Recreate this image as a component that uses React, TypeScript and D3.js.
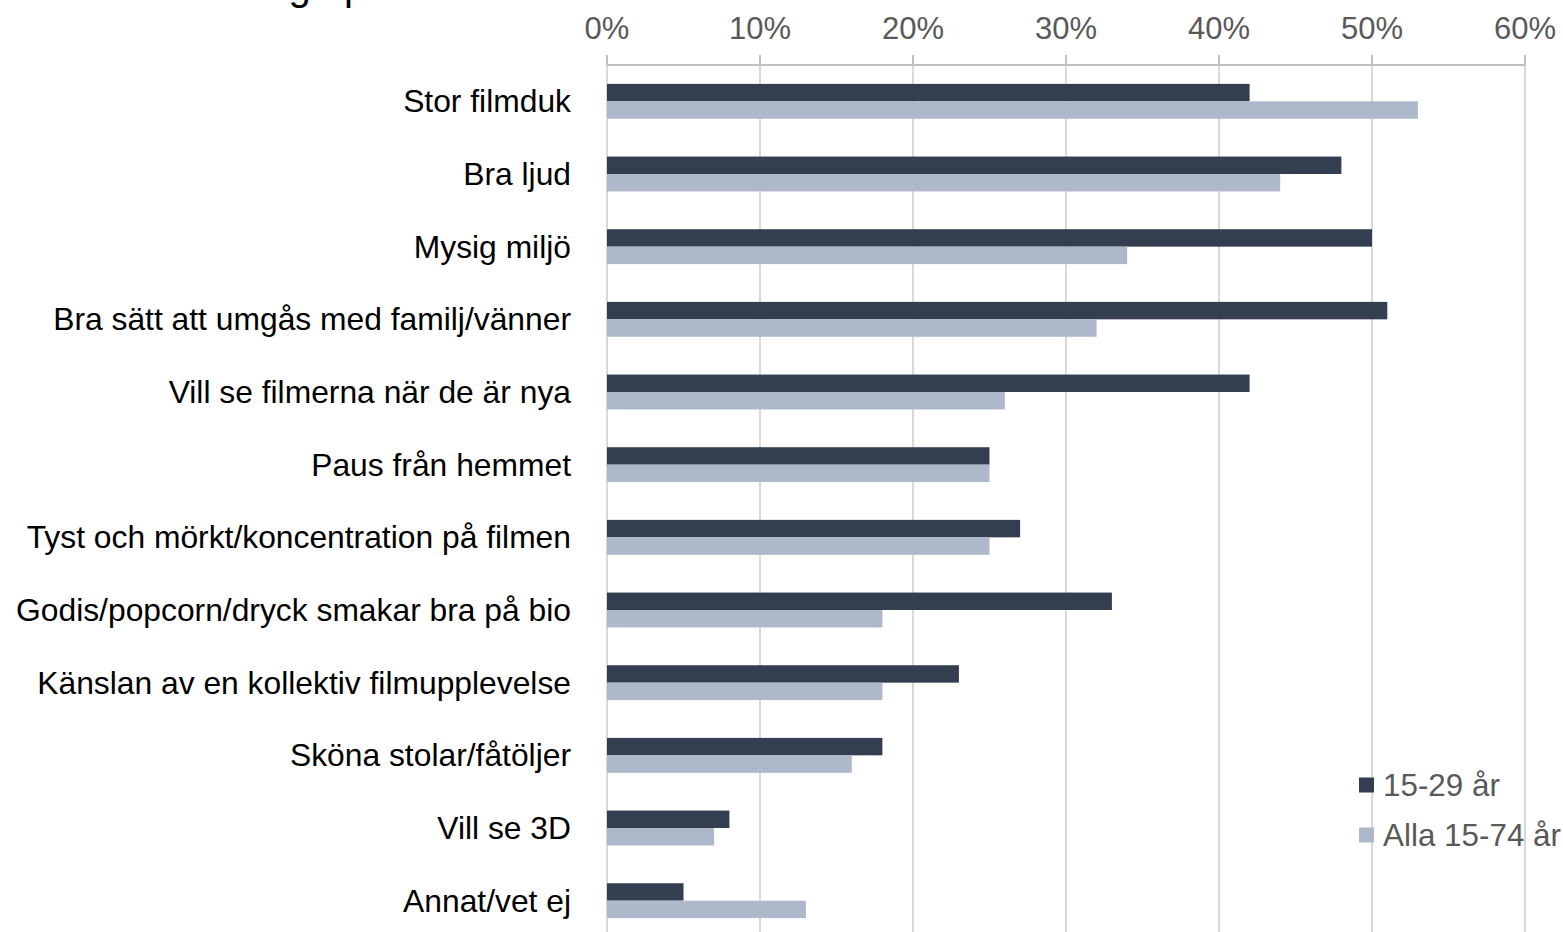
import React from "react";
import * as d3 from "d3";

const categories = [
  "Stor filmduk",
  "Bra ljud",
  "Mysig miljö",
  "Bra sätt att umgås med familj/vänner",
  "Vill se filmerna när de är nya",
  "Paus från hemmet",
  "Tyst och mörkt/koncentration på filmen",
  "Godis/popcorn/dryck smakar bra på bio",
  "Känslan av en kollektiv filmupplevelse",
  "Sköna stolar/fåtöljer",
  "Vill se 3D",
  "Annat/vet ej",
];
const young = [42, 48, 50, 51, 42, 25, 27, 33, 23, 18, 8, 5];
const all = [53, 44, 34, 32, 26, 25, 25, 18, 18, 16, 7, 13];
const seriesNames = ["15-29 år", "Alla 15-74 år"];
const seriesColors = ["#333F50", "#ADB9CA"];
const ticks = [0, 10, 20, 30, 40, 50, 60];
const title = "Skäl till att gå på bio";

const W = 1563;
const H = 932;
const M = { left: 607, right: 1525, top: 65, bottom: 937 };

export default function App() {
  const x = d3.scaleLinear().domain([0, 60]).range([M.left, M.right]);
  const y = d3.scaleBand<string>().domain(categories).range([M.top, M.bottom]).paddingInner(0).paddingOuter(0);
  const step = y.bandwidth();
  const barH = step * 0.24;
  const series = [young, all];
  const font = "Arial, 'Liberation Sans', sans-serif";

  return (
    <svg width={W} height={H} style={{ position: "absolute", left: 0, top: 0, background: "#fff" }} fontFamily={font}>
      <text x={95} y={-0.5} fontSize={40} fill="#000">{title}</text>
      {ticks.map((t) => (
        <g key={t}>
          <line x1={x(t)} x2={x(t)} y1={55} y2={M.bottom} stroke="#D9D9D9" strokeWidth={2} />
          <text x={x(t)} y={39} textAnchor="middle" fontSize={31} fill="#595959">{t}%</text>
        </g>
      ))}
      <line x1={M.left} x2={M.right} y1={M.top} y2={M.top} stroke="#BFBFBF" strokeWidth={2} />
      {ticks.map((t) => (
        <line key={"tk" + t} x1={x(t)} x2={x(t)} y1={55} y2={M.top} stroke="#BFBFBF" strokeWidth={2} />
      ))}
      {categories.map((c, i) => {
        const cy = (y(c) as number) + step / 2;
        return (
          <g key={c}>
            <text x={571} y={cy} dy="0.35em" textAnchor="end" fontSize={31.8} fill="#000">{c}</text>
            {series.map((s, k) => (
              <rect
                key={k}
                x={x(0)}
                y={cy - barH + k * barH}
                width={x(s[i]) - x(0)}
                height={barH}
                fill={seriesColors[k]}
              />
            ))}
          </g>
        );
      })}
      {seriesNames.map((n, k) => (
        <g key={n} transform={`translate(1359, ${785 + k * 50})`}>
          <rect x={0} y={-7.5} width={15} height={15} fill={seriesColors[k]} />
          <text x={24} y={0} dy="0.35em" fontSize={31.4} fill="#595959">{n}</text>
        </g>
      ))}
    </svg>
  );
}
